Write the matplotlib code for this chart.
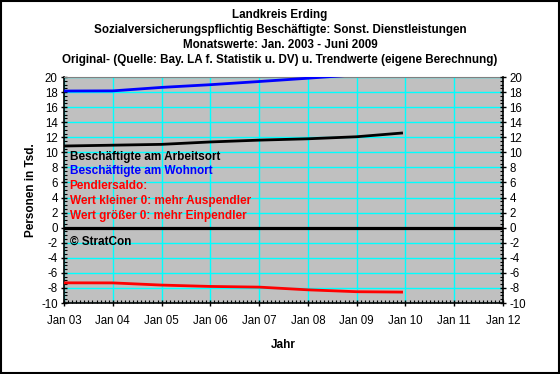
import matplotlib
matplotlib.use("Agg")
import matplotlib.pyplot as plt
from matplotlib.ticker import MultipleLocator, FixedLocator

plt.rcParams["font.family"] = ["Liberation Sans", "DejaVu Sans"]
plt.rcParams["axes.unicode_minus"] = False

# Trend values (Tsd.) at each January, last point Dec 2009
years = [2003.0, 2004.0, 2005.0, 2006.0, 2007.0, 2008.0, 2009.0, 2009.92]
arbeitsort = [10.84, 10.95, 11.06, 11.38, 11.62, 11.8, 12.07, 12.56]
wohnort = [18.14, 18.16, 18.62, 18.98, 19.4, 19.84, 20.3, 20.7]
pendlersaldo = [-7.32, -7.33, -7.62, -7.8, -7.89, -8.25, -8.5, -8.55]

xtick_years = list(range(2003, 2013))
xtick_labels = ["Jan %02d" % (y % 100) for y in xtick_years]

titles = [
    "Landkreis Erding",
    "Sozialversicherungspflichtig Beschäftigte: Sonst. Dienstleistungen",
    "Monatswerte: Jan. 2003 - Juni 2009",
    "Original- (Quelle: Bay. LA f. Statistik u. DV) u. Trendwerte (eigene Berechnung)",
]

legend_lines = [
    ("Beschäftigte am Arbeitsort", "black"),
    ("Beschäftigte am Wohnort", "blue"),
    ("Pendlersaldo:", "red"),
    ("Wert kleiner 0: mehr Auspendler", "red"),
    ("Wert größer 0: mehr Einpendler", "red"),
]

fig = plt.figure(figsize=(5.6, 3.74), dpi=100)
ax = fig.add_axes([0.1143, 0.1898, 0.784, 0.6043])
ax.set_facecolor("#C0C0C0")

ax.set_xlim(2003, 2012)
ax.set_ylim(-10, 20)

ax.xaxis.set_major_locator(FixedLocator(xtick_years))
ax.set_xticklabels(xtick_labels)
ax.xaxis.set_minor_locator(MultipleLocator(1 / 12))
ax.yaxis.set_major_locator(MultipleLocator(2))
ax.yaxis.set_minor_locator(MultipleLocator(0.5))

ax.grid(True, which="major", color="#00FFFF", lw=1.0, zorder=0)
ax.set_axisbelow(True)

ax.axhline(0, color="black", lw=2.3, zorder=3)
ax.plot(years, wohnort, color="blue", lw=2.0, zorder=4)
ax.plot(years, arbeitsort, color="black", lw=2.0, zorder=4)
ax.plot(years, pendlersaldo, color="red", lw=2.0, zorder=4)

ax.tick_params(axis="both", which="major", direction="inout", length=5,
               labelsize=8.3, width=1)
ax.tick_params(axis="both", which="minor", direction="in", length=2, width=0.8)
ax.tick_params(axis="x", pad=6)
ax.tick_params(axis="y", pad=2)
for s in ["left", "bottom"]:
    ax.spines[s].set_linewidth(1.2)
ax.spines["top"].set_color("#808080")
ax.spines["right"].set_visible(False)

ax2 = ax.twinx()
ax2.set_ylim(-10, 20)
ax2.yaxis.set_major_locator(MultipleLocator(2))
ax2.yaxis.set_minor_locator(MultipleLocator(0.5))
ax2.tick_params(axis="y", which="major", direction="inout", length=5,
                labelsize=8.3, width=1, pad=2)
ax2.tick_params(axis="y", which="minor", direction="in", length=2, width=0.8)
ax2.spines["right"].set_linewidth(1.2)
for s in ["left", "top", "bottom"]:
    ax2.spines[s].set_visible(False)

ax.set_ylabel("Personen in Tsd.", fontsize=8.5, fontweight="bold", labelpad=3)
ax.set_xlabel("Jahr", fontsize=8.5, fontweight="bold", labelpad=9)

for i, t in enumerate(titles):
    fig.text(0.5, 1 - (15 + i * 15) / 374, t, ha="center", va="center",
             fontsize=8.4, fontweight="bold")

for i, (txt, col) in enumerate(legend_lines):
    ax.text(0.013, 0.648 - i * 0.066, txt, color=col, transform=ax.transAxes,
            fontsize=8.5, fontweight="bold", va="center", zorder=5)
ax.text(0.013, 0.27, "© StratCon", color="black", transform=ax.transAxes,
        fontsize=8.5, fontweight="bold", va="center", zorder=5)

fig.patches.append(plt.Rectangle((0.001, 0.002), 0.997, 0.995, fill=False,
                                 edgecolor="black", lw=1.5,
                                 transform=fig.transFigure))

fig.savefig("out.png", dpi=100)
